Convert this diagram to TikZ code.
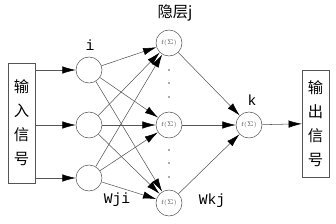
\documentclass[tikz,border=0pt]{standalone}
\usepackage{fontspec}
\newfontfamily\cjk{Noto Sans CJK SC}
\setmonofont{Liberation Mono}
\usetikzlibrary{arrows.meta}
\definecolor{linegray}{HTML}{555555}
\tikzset{
  neuron/.style={circle, draw=linegray, minimum size=19.5pt, inner sep=0pt},
  sumnode/.style={neuron, font=\fontsize{4.5}{5}\selectfont, text=linegray},
  sigbox/.style={rectangle, draw=linegray, minimum width=20pt, inner sep=0pt,
                 align=center, font=\cjk\fontsize{11.5}{18}\selectfont},
  arr/.style={-{Latex[length=10pt,width=5.5pt,color=black]}, draw=linegray, line width=0.4pt},
  lbl/.style={font=\ttfamily\fontsize{11}{12}\selectfont},
}

\begin{document}
\begin{tikzpicture}[x=0.75pt, y=-0.75pt]
  \useasboundingbox (0,0) rectangle (336,224);
  % signal boxes
  \node[sigbox, minimum height=90pt] (inbox) at (21.5,123) {输\\入\\信\\号};
  \node[sigbox, minimum height=80pt] (outbox) at (315.5,123.5) {输\\出\\信\\号};

  % input layer
  \node[neuron] (in1) at (89,70) {};
  \node[neuron] (in2) at (89,125) {};
  \node[neuron] (in3) at (89,178) {};

  % hidden layer
  \node[sumnode] (hid1) at (169,43) {f($\Sigma$)};
  \node[sumnode] (hid2) at (169,125) {f($\Sigma$)};
  \node[sumnode] (hid3) at (169,203) {f($\Sigma$)};

  % output layer
  \node[sumnode] (out) at (249,125) {f($\Sigma$)};

  % dots between hidden nodes
  \foreach \y in {70,83,97,150,163,177}
    \fill[linegray] (169,\y) circle (0.7pt);

  % labels
  \node[lbl] (lbli) at (90,45) {i};
  \node[font=\cjk\fontsize{11.5}{12}\selectfont] (lblj) at (175,13) {隐层j};
  \node[lbl] (lblk) at (252,100) {k};
  \node[lbl] (lblwji) at (117,200) {Wji};
  \node[lbl] (lblwkj) at (212,201) {Wkj};

  % arrows
  \foreach \i in {1,2,3}
    \draw[arr] (inbox.east |- in\i) -- (in\i);
  \foreach \i in {1,2,3}
    \foreach \j in {1,2,3}
      \draw[arr] (in\i) -- (hid\j);
  \foreach \j in {1,2,3}
    \draw[arr] (hid\j) -- (out);
  \draw[arr] (out) -- (outbox);
\end{tikzpicture}
\end{document}
